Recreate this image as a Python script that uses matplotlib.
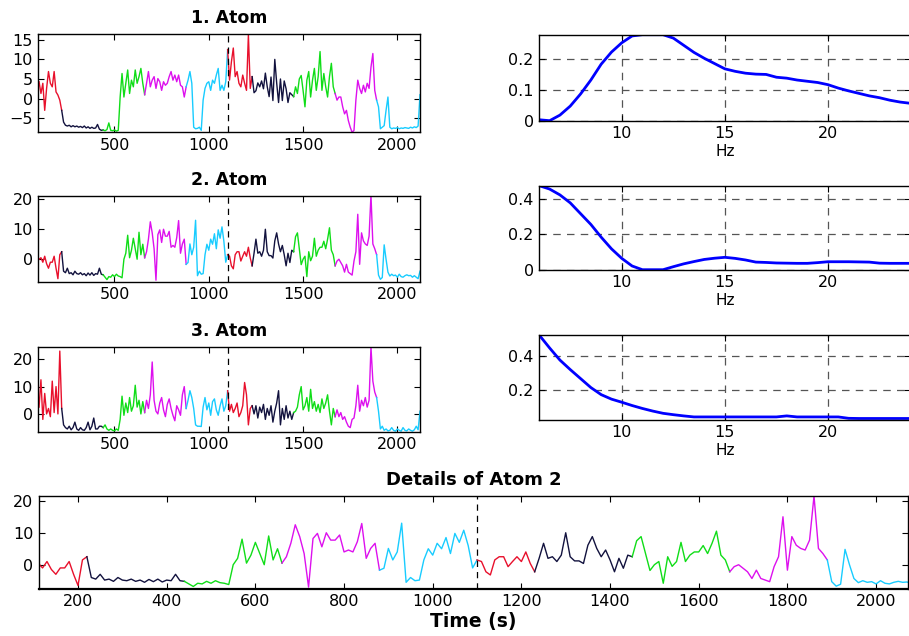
import numpy as np
import matplotlib
matplotlib.use('Agg')
import matplotlib.pyplot as plt

plt.rcParams['font.family'] = ['DejaVu Sans']

# time axis of the traces (s), one value every 10 s
time_s = np.arange(100, 2121, 10)

atom1 = [
    4.3, 1.3, 3.9, -3.0, 2.6, 6.9, 3.9, 3.0, 6.9, 1.7,            # 100
    0.9, -0.4, -3.0, -6.0, -6.8, -7.0, -6.8, -7.2, -6.9, -7.2,     # 200
    -7.0, -7.3, -7.1, -7.4, -7.0, -7.5, -7.2, -7.6, -7.3, -7.6,    # 300
    -7.5, -6.6, -7.8, -8.1, -8.0, -8.2, -7.9, -6.2, -8.1, -8.2,    # 400
    -8.0, -8.3, -8.1, 0.4, 6.4, 0.4, 3.9, 7.3, 1.3, 4.7,           # 500
    3.0, 7.3, 3.9, 5.6, 7.7, 3.9, 1.0, 3.9, 6.9, 3.0,              # 600
    4.7, 5.6, 2.6, 5.1, 4.3, 2.1, 4.3, 3.4, 3.9, 5.6,              # 700
    6.9, 4.7, 6.0, 4.3, 6.0, 3.4, 3.0, 0.4, 3.0, 4.7,              # 800
    6.9, 3.9, -7.3, -7.7, -7.6, -7.3, -8.1, -0.4, 2.6, 3.9,        # 900
    4.3, 2.1, 4.7, 3.9, 6.0, 7.7, 2.1, 3.4, 2.1, 4.3,              # 1000
    12.5, 4.7, 9.4, 12.9, 5.6, 6.9, 3.9, 3.0, 6.0, 3.9,            # 1100
    2.1, 16.3, 2.6, 5.6, 1.5, 2.0, 4.0, 3.0, 4.5, 2.5,             # 1200
    6.5, 3.0, 0.5, 5.5, -0.5, 10.0, 4.0, -1.0, 5.0, -0.5,          # 1300
    4.5, 2.5, -1.0, 1.5, 1.0, 0.5, 3.0, 1.3, 5.0, 5.9,             # 1400
    2.1, -2.1, 4.7, 6.9, 0.4, 4.7, 7.7, 2.1, 5.6, 12.0,            # 1500
    2.1, 6.4, 3.0, 0.4, 5.6, 9.0, 3.0, 1.3, -0.4, 0.4,             # 1600
    0.4, -2.1, -3.9, -3.0, -5.6, -7.3, -8.6, -8.1, -0.4, 4.7,      # 1700
    2.6, 1.3, 3.4, 1.7, 3.9, 2.6, 8.0, 11.5, 2.1, -0.4,            # 1800
    -2.1, -7.7, -7.3, -6.9, -3.0, 0.4, -7.3, -7.7, -7.5, -7.6,     # 1900
    -7.4, -7.7, -7.5, -7.6, -7.4, -7.5, -7.6, -7.3, -7.5, -7.2,    # 2000
    -7.4, -7.0, 1.0,                                               # 2100
]

atom2 = [
    0.0, 0.5, -1.0, 1.0, -1.5, -3.0, -1.0, -1.0, 1.0, -3.0,        # 100
    -6.5, 1.5, 2.5, -4.0, -4.5, -3.0, -4.8, -4.5, -5.2, -4.0,      # 200
    -4.8, -5.0, -4.5, -5.2, -4.8, -5.5, -4.6, -5.3, -4.5, -5.4,    # 300
    -4.8, -5.0, -3.0, -5.0, -5.2, -6.0, -6.8, -5.8, -6.0, -5.2,    # 400
    -5.8, -5.0, -5.6, -5.8, -6.2, 0.0, 2.0, 8.0, 0.5, 3.0,         # 500
    7.0, 3.5, 0.0, 9.0, 1.5, 5.0, 0.5, 2.5, 6.7, 12.5,             # 600
    8.8, 3.5, -7.0, 8.2, 9.8, 5.6, 10.0, 7.7, 7.7, 9.3,            # 700
    4.0, 4.6, 4.0, 7.2, 12.9, 2.0, 5.1, 6.7, -1.7, -1.1,           # 800
    5.1, 1.5, 4.0, 13.0, -5.5, -4.0, -5.0, -4.8, 1.5, 5.0,         # 900
    3.0, 6.7, 5.0, 8.5, 3.5, 9.8, 7.0, 10.8, 6.0, -1.0,            # 1000
    1.5, 1.0, -2.2, -3.2, 1.5, 2.5, 2.5, -0.6, 1.0, 2.5,           # 1100
    1.0, 4.0, 0.4, -2.2, 2.0, 6.7, 2.0, 2.5, 1.0, 3.0,             # 1200
    10.0, 2.5, 1.2, 1.2, 0.4, 6.1, 8.8, 5.1, 2.5, 4.6,             # 1300
    1.5, -2.2, 2.0, -1.1, 3.0, 2.5, 7.5, 8.8, 3.5, -1.8,           # 1400
    0.0, 1.0, -5.8, 2.5, -0.5, 1.0, 7.0, 1.0, 3.0, 4.0,            # 1500
    4.0, 6.0, 3.5, 6.7, 10.5, 3.0, 1.5, -2.2, -0.6, 0.0,           # 1600
    -1.1, -2.2, -4.3, -1.7, -4.3, -4.8, -5.3, -0.6, 2.5, 15.0,     # 1700
    -1.7, 8.8, 6.1, 5.1, 4.6, 7.7, 21.5, 5.1, 3.5, 1.5,            # 1800
    -5.3, -6.7, -6.1, 4.8, 0.0, -4.3, -5.6, -5.0, -5.5, -5.3,      # 1900
    -6.0, -5.0, -5.8, -6.0, -5.5, -5.2, -5.5, -5.4, -6.0, -5.5,    # 2000
    -6.0, -6.5, -4.0,                                              # 2100
]

atom3 = [
    2.5, 12.5, -2.0, 7.5, 0.0, 2.0, -1.0, 12.0, 0.5, 10.0,         # 100
    0.0, 23.0, 2.0, -4.0, -5.0, -5.5, -4.5, -5.8, -5.0, -3.0,      # 200
    -5.5, -6.0, -5.0, -5.8, -6.0, -5.0, -3.0, -5.8, -4.5, -1.5,    # 300
    -5.5, -5.5, -4.5, -4.5, -5.0, -4.0, -5.5, -6.0, -5.5, -6.0,    # 400
    -6.2, -5.5, -6.0, -2.0, 6.5, -0.5, 4.0, 0.5, 6.0, 1.0,         # 500
    3.0, 10.5, 2.5, 5.0, 0.0, 4.5, 0.5, 5.0, 2.0, 7.0,             # 600
    19.0, 5.0, 1.0, 0.0, 4.0, 6.0, 1.5, -1.0, 3.5, 5.5,            # 700
    2.0, -0.5, -2.5, 3.0, 1.5, -0.5, 7.0, 10.0, 2.0, 5.0,          # 800
    8.5, 6.0, 2.0, -4.0, -4.5, -4.5, -4.6, 2.5, 6.0, 1.5,          # 900
    4.0, -0.5, 4.5, 5.5, 1.5, -0.5, 3.0, 5.5, 1.0, 3.0,            # 1000
    8.5, 1.0, 3.5, 0.5, 2.0, 4.0, -1.0, 0.5, 3.0, 11.5,            # 1100
    7.0, -4.0, 2.0, 3.0, 0.0, 3.0, -1.5, 2.5, 0.5, 3.5,            # 1200
    -2.0, 2.0, -0.5, 3.0, -3.0, 1.0, 4.0, 8.5, -4.0, 2.0,          # 1300
    -2.0, 3.0, -1.5, 1.0, -2.0, 0.5, 1.0, 2.5, 7.0, 10.0,          # 1400
    1.5, 3.0, 6.0, 1.0, 9.0, 2.0, 4.5, 1.0, 3.5, 0.5,              # 1500
    5.5, 2.0, 4.0, 7.0, 1.0, -4.0, 2.0, -1.0, 1.5, -1.0,           # 1600
    0.5, -2.0, -1.0, -3.0, -4.5, -5.0, -2.0, -1.5, 3.0, 10.5,      # 1700
    1.0, 5.0, 3.0, 6.0, 2.5, 5.0, 24.5, 12.0, 8.0, 6.0,            # 1800
    1.0, -5.5, -4.5, -6.0, -5.5, -6.2, -6.0, -5.0, -6.0, -6.3,     # 1900
    -5.5, -6.0, -6.3, -5.0, -6.0, -6.2, -5.5, -6.0, -6.3, -5.8,    # 2000
    -4.5, -5.8, 1.0,                                               # 2100
]

# state boundaries (s) and the colour of each state
seg_edges = [100, 220, 440, 660, 880, 1100, 1230, 1450, 1670, 1890, 2120]
seg_colors = ['#e8102c', '#12123e', '#10dd18', '#dd10ee', '#18ccff'] * 2

# spectra
freq_hz = np.arange(6.0, 24.01, 0.5)
psd1 = [0.003, 0.0, 0.018, 0.047, 0.086, 0.131, 0.182, 0.221, 0.251, 0.273,
        0.277, 0.277, 0.277, 0.266, 0.243, 0.220, 0.201, 0.184, 0.167, 0.159,
        0.153, 0.150, 0.149, 0.140, 0.137, 0.131, 0.127, 0.123, 0.116, 0.105,
        0.096, 0.088, 0.080, 0.074, 0.066, 0.060, 0.056]
psd2 = [0.475, 0.456, 0.423, 0.378, 0.317, 0.256, 0.184, 0.118, 0.064, 0.021,
        0.0, 0.0, 0.0, 0.017, 0.033, 0.046, 0.058, 0.065, 0.070, 0.064,
        0.055, 0.043, 0.041, 0.038, 0.037, 0.036, 0.036, 0.040, 0.045, 0.045,
        0.045, 0.044, 0.043, 0.037, 0.036, 0.036, 0.036]
psd3 = [0.519, 0.445, 0.375, 0.320, 0.268, 0.216, 0.175, 0.149, 0.131, 0.112,
        0.095, 0.080, 0.067, 0.059, 0.052, 0.046, 0.046, 0.046, 0.046, 0.046,
        0.046, 0.046, 0.046, 0.046, 0.052, 0.046, 0.046, 0.046, 0.046, 0.046,
        0.038, 0.037, 0.037, 0.037, 0.037, 0.037, 0.037]

titles = ['1. Atom', '2. Atom', '3. Atom']
traces = [atom1, atom2, atom3]
spectra = [psd1, psd2, psd3]
trace_ylims = [(-8.6, 16.4), (-7.5, 21.1), (-6.5, 24.6)]
trace_yticks = [[-5, 0, 5, 10, 15], [0, 10, 20], [0, 10, 20]]
spec_ylims = [(0, 0.277), (0, 0.475), (0.03, 0.52)]
spec_yticks = [[0, 0.1, 0.2], [0, 0.2, 0.4], [0.2, 0.4]]

W, H = 909, 636
fig = plt.figure(figsize=(W / 100, H / 100), dpi=100)


def px_axes(x0, y0, x1, y1):
    return fig.add_axes([x0 / W, 1 - y1 / H, (x1 - x0) / W, (y1 - y0) / H])


def style(ax):
    ax.tick_params(direction='in', top=True, right=True, length=4,
                   width=0.8, labelsize=11.5, pad=4)
    for s in ax.spines.values():
        s.set_linewidth(1.0)


def draw_trace(ax, y):
    y = np.asarray(y)
    for i in range(len(seg_edges) - 1):
        m = (time_s >= seg_edges[i]) & (time_s <= seg_edges[i + 1])
        ax.plot(time_s[m], y[m], color=seg_colors[i], lw=1.0)
    ax.axvline(1100, color='k', ls=(0, (5, 4)), lw=0.9)


left_rows = [(34.3, 132.3), (196, 281.7), (346.7, 431.7)]
right_rows = [(34.7, 120.7), (185.7, 269.7), (335, 419.7)]

for k in range(3):
    ax = px_axes(38.3, left_rows[k][0], 420, left_rows[k][1])
    draw_trace(ax, traces[k])
    ax.set_xlim(96, 2120)
    ax.set_ylim(*trace_ylims[k])
    ax.set_xticks([500, 1000, 1500, 2000])
    ax.set_yticks(trace_yticks[k])
    ax.set_title(titles[k], fontsize=12.5, fontweight='bold', pad=8)
    style(ax)

    ax = px_axes(539.3, right_rows[k][0], 910.5, right_rows[k][1])
    ax.plot(freq_hz, spectra[k], color='#0000ff', lw=2.0)
    ax.set_xlim(6, 24)
    ax.set_ylim(*spec_ylims[k])
    ax.set_xticks([10, 15, 20])
    ax.set_yticks(spec_yticks[k])
    ax.set_yticklabels([('%g' % v) for v in spec_yticks[k]])
    ax.grid(True, ls=(0, (6, 5)), color='#555555', lw=0.9)
    ax.set_xlabel('Hz', fontsize=11, labelpad=2)
    style(ax)

ax = px_axes(39, 496, 908, 588.7)
draw_trace(ax, atom2)
ax.set_xlim(112, 2072)
ax.set_ylim(-7.5, 21.5)
ax.set_xticks(np.arange(200, 2001, 200))
ax.set_yticks([0, 10, 20])
ax.set_title('Details of Atom 2', fontsize=13, fontweight='bold', pad=8)
ax.set_xlabel('Time (s)', fontsize=13.5, fontweight='bold', labelpad=2)
style(ax)
ax.spines['bottom'].set_linewidth(1.6)

fig.savefig('out.png', dpi=100)
